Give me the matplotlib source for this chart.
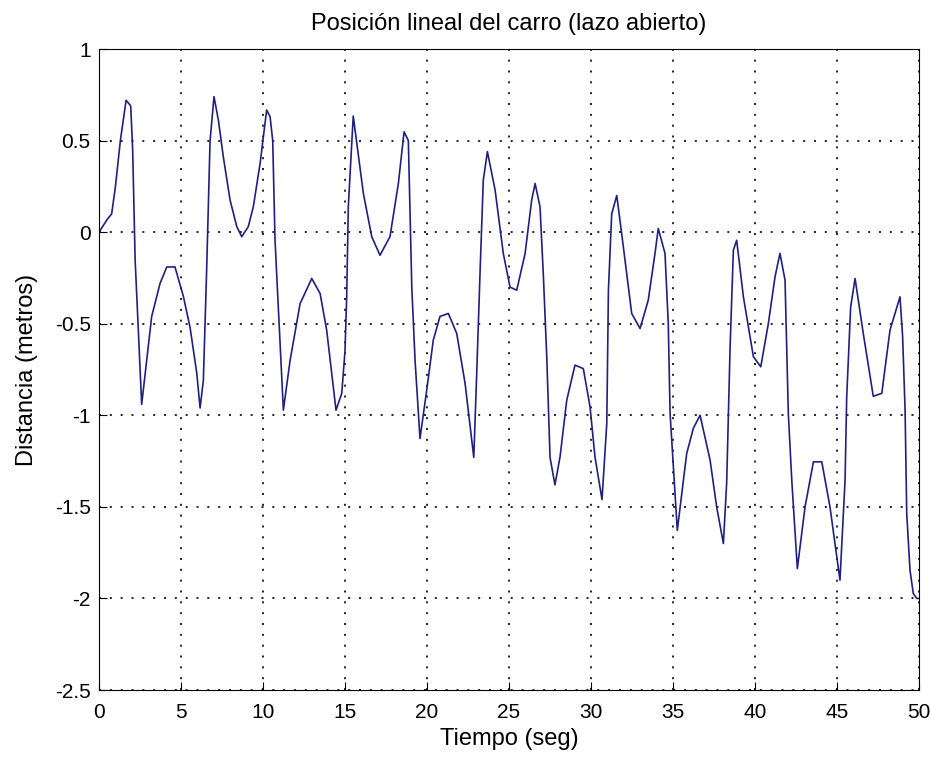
import matplotlib
matplotlib.use("Agg")
import matplotlib.pyplot as plt

# tiempo (s) y posicion (m)
t = [0.0, 0.5, 0.77, 1.0, 1.3, 1.65, 1.93, 2.05, 2.2, 2.6,
     3.21, 3.72, 4.13, 4.63, 5.14, 5.55, 5.96, 6.16, 6.36, 6.56, 6.77, 7.01,
     7.28, 7.58, 7.99, 8.4, 8.7, 9.1, 9.41, 9.82, 10.02, 10.22, 10.43, 10.59,
     10.73, 10.83, 11.24, 11.65, 12.26, 12.97, 13.48, 13.88, 14.45, 14.8,
     15.0, 15.1, 15.2, 15.5, 16.12, 16.63, 17.13, 17.74, 18.25, 18.6, 18.86,
     19.07, 19.27, 19.57, 19.98, 20.38, 20.79, 21.3, 21.81, 22.32, 22.85,
     23.03, 23.23, 23.43, 23.68, 24.15, 24.65, 25.06, 25.47, 25.98, 26.38,
     26.59, 26.89, 27.09, 27.3, 27.5, 27.8, 28.11, 28.52, 29.02, 29.53,
     29.94, 30.24, 30.67, 30.96, 31.06, 31.26, 31.57, 31.97, 32.48, 32.99,
     33.49, 33.9, 34.1, 34.51, 34.71, 34.82, 35.26, 35.83, 36.24, 36.65, 37.26,
     37.66, 38.07, 38.27, 38.48, 38.68, 38.88, 39.29, 39.9, 40.35, 40.81,
     41.22, 41.52, 41.83, 42.03, 42.24, 42.58, 43.05, 43.56, 44.07, 44.57,
     45.18, 45.49, 45.59, 45.83, 46.1, 46.6, 47.21, 47.73, 48.23, 48.84,
     49.0, 49.15, 49.25, 49.45, 49.65, 49.86, 50.0]
pos = [0.0, 0.07, 0.10, 0.25, 0.50, 0.72, 0.69, 0.45, -0.15, -0.94,
       -0.46, -0.28, -0.19, -0.19, -0.35, -0.52, -0.77, -0.96, -0.81, -0.21, 0.50, 0.74,
       0.61, 0.41, 0.175, 0.03, -0.025, 0.03, 0.14, 0.375, 0.52, 0.667, 0.63, 0.50,
       -0.04, -0.226, -0.972, -0.70, -0.39, -0.253, -0.335, -0.535, -0.972, -0.88,
       -0.645, -0.353, 0.14, 0.634, 0.21, -0.025, -0.126, -0.025, 0.265, 0.548, 0.50,
       -0.30, -0.70, -1.127, -0.863, -0.59, -0.46, -0.444, -0.553, -0.826, -1.23,
       -0.77, -0.226, 0.284, 0.44, 0.23, -0.116, -0.30, -0.317, -0.116, 0.175,
       0.266, 0.138, -0.23, -0.68, -1.23, -1.38, -1.227, -0.917, -0.726, -0.745,
       -0.954, -1.227, -1.46, -1.045, -0.317, 0.10, 0.20, -0.08, -0.444, -0.526,
       -0.371, -0.116, 0.02, -0.116, -0.50, -0.99, -1.628, -1.21, -1.07, -1.0, -1.245,
       -1.50, -1.70, -1.37, -0.626, -0.098, -0.044, -0.353, -0.68, -0.735, -0.50,
       -0.244, -0.116, -0.262, -0.99, -1.354, -1.837, -1.50, -1.254, -1.254, -1.50,
       -1.90, -1.354, -0.90, -0.41, -0.253, -0.553, -0.896, -0.88, -0.535, -0.353,
       -0.57, -0.972, -1.536, -1.846, -1.973, -2.0, -2.0]

xticks = [0, 5, 10, 15, 20, 25, 30, 35, 40, 45, 50]
yticks = [1, 0.5, 0, -0.5, -1, -1.5, -2, -2.5]
ytick_labels = ["1", "0.5", "0", "-0.5", "-1", "-1.5", "-2", "-2.5"]

plt.rcParams['font.family'] = ['Liberation Sans', 'DejaVu Sans']
plt.rcParams['axes.unicode_minus'] = False

fig = plt.figure(figsize=(9.3, 7.59), dpi=100)
ax = fig.add_axes([0.1065, 0.0909, 0.8817, 0.8445])

ax.plot(t, pos, color='#20207e', linewidth=1.2)

ax.set_xlim(0, 50)
ax.set_ylim(-2.5, 1)
ax.set_xticks(xticks)
ax.set_yticks(yticks)
ax.set_yticklabels(ytick_labels)
ax.tick_params(direction='in', length=6, labelsize=15)
ax.tick_params(axis='x', pad=9)
ax.tick_params(axis='y', pad=6)
ax.grid(True, color='black', linestyle=(0, (1.2, 5.3)), linewidth=1.2)

ax.set_title("Posición lineal del carro (lazo abierto)", fontsize=17, pad=14)
ax.set_xlabel("Tiempo (seg)", fontsize=17, labelpad=5)
ax.set_ylabel("Distancia (metros)", fontsize=17, labelpad=12)

fig.savefig("out.png", dpi=100)
